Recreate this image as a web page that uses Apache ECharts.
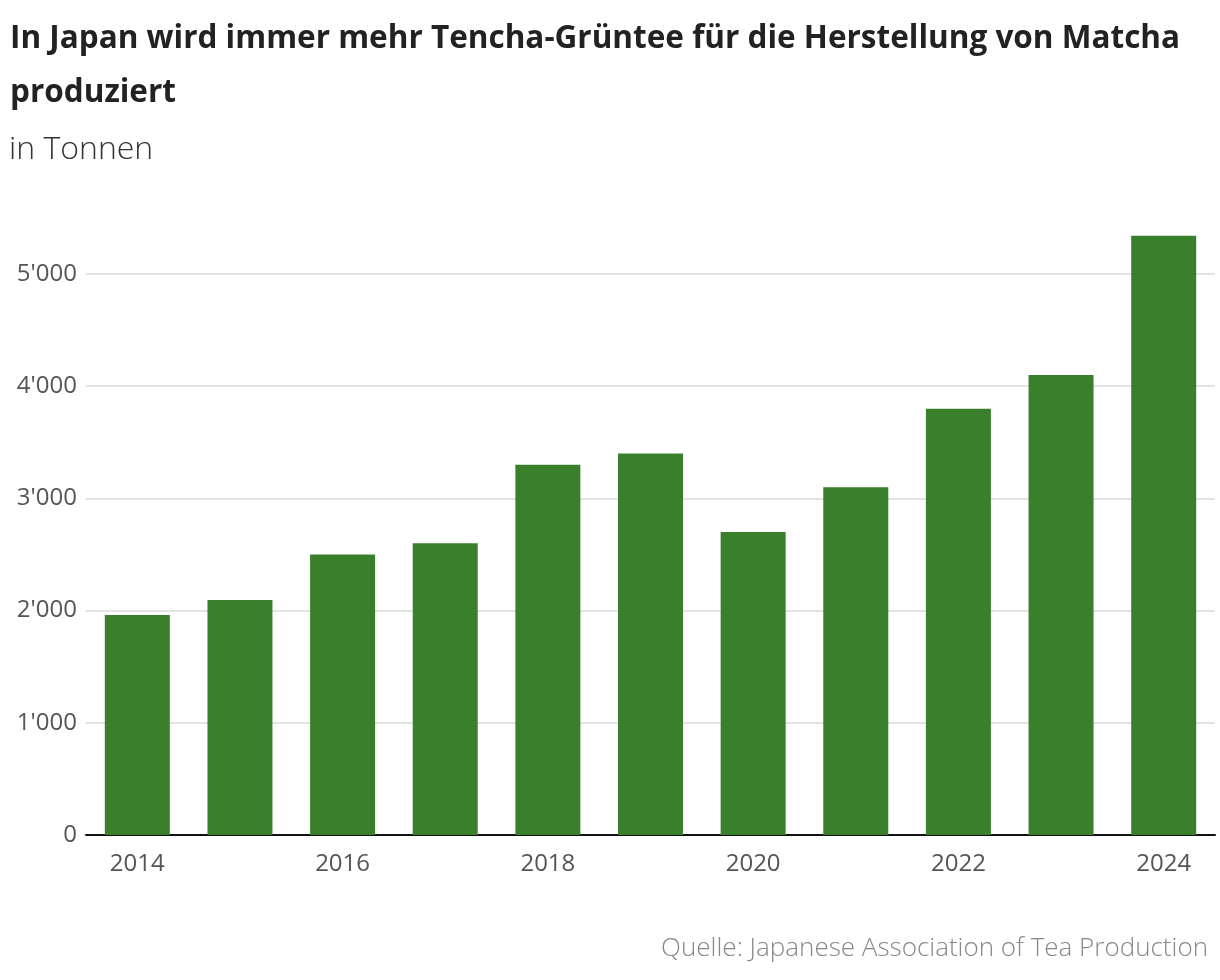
<!DOCTYPE html>
<html><head><meta charset="utf-8">
<script src="https://cdn.jsdelivr.net/npm/echarts@6/dist/echarts.min.js"></script>
<style>html,body{margin:0;padding:0;background:#fff}#c{width:1220px;height:980px}</style>
</head><body><div id="c"></div>
<script>
const years = ['2014','2015','2016','2017','2018','2019','2020','2021','2022','2023','2024'];
const tonnes = [1960, 2095, 2500, 2600, 3300, 3400, 2700, 3100, 3800, 4100, 5340];
const yTicks = [0, 1000, 2000, 3000, 4000, 5000];
const titleText = 'In Japan wird immer mehr Tencha-Grüntee für die Herstellung von Matcha\nproduziert';
const subtitleText = 'in Tonnen';
const sourceText = 'Quelle: Japanese Association of Tea Production';

const chart = echarts.init(document.getElementById('c'), null, {renderer: 'canvas'});
chart.setOption({
  backgroundColor: '#fff',
  animation: false,
  title: [{
    text: titleText, left: 10, top: 12, padding: 0,
    textStyle: {fontFamily: 'Open Sans', fontWeight: 'bold', fontSize: 31.5, color: '#222', lineHeight: 54}
  }, {
    text: subtitleText, left: 9, top: 134, padding: 0,
    textStyle: {fontFamily: 'Open Sans', fontWeight: 300, fontSize: 32, color: '#333'}
  }, {
    text: sourceText, right: 12, top: 936, padding: 0,
    textStyle: {fontFamily: 'Open Sans', fontWeight: 300, fontSize: 26, color: '#888'}
  }],
  grid: {left: 86, right: 5, top: 274, bottom: 145, containLabel: false},
  xAxis: {
    type: 'category', data: years,
    axisLine: {lineStyle: {color: '#111', width: 2}},
    axisTick: {show: false},
    axisLabel: {interval: 1, color: '#555', fontFamily: 'Open Sans', fontSize: 24, margin: 17}
  },
  yAxis: {
    type: 'value', min: yTicks[0], max: yTicks[yTicks.length-1], interval: 1000,
    axisLine: {show: false}, axisTick: {show: false},
    splitLine: {lineStyle: {color: '#e3e3e3', width: 2}},
    axisLabel: {color: '#555', fontFamily: 'Open Sans', fontSize: 24, margin: 9,
      formatter: v => v === 0 ? '0' : String(v).replace(/\B(?=(\d{3})+(?!\d))/g, "'")}
  },
  series: [{
    type: 'bar', data: tonnes, barWidth: 65, clip: false,
    itemStyle: {color: '#3a802c'}
  }]
});
</script></body></html>
